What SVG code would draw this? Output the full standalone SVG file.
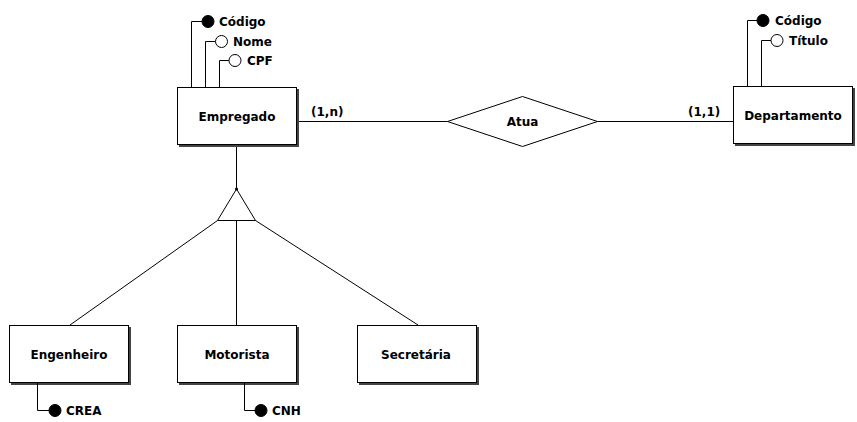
<svg xmlns="http://www.w3.org/2000/svg" width="857" height="422" viewBox="0 0 857 422">
<style>
text{font-family:"DejaVu Sans",sans-serif;font-weight:bold;font-size:12px;fill:#000}
.c{text-anchor:middle}
.box{fill:#fff;stroke:#000;stroke-width:1}
.sh{fill:#444}
.ln{fill:none;stroke:#000;stroke-width:1}
.pk{fill:#000;stroke:#000;stroke-width:1}
.at{fill:#fff;stroke:#000;stroke-width:1}
</style>
<rect width="857" height="422" fill="#fff"/>
<g id="connectors">
<path class="ln" d="M296.5,121.5H447.5"/>
<path class="ln" d="M597.5,121.5H733.5"/>
<path class="ln" d="M236.5,145V189"/>
<path class="ln" d="M217.5,220.5L70,325"/>
<path class="ln" d="M236.5,220.5V325"/>
<path class="ln" d="M255.5,220.5L418,325"/>
<text x="311" y="116">(1,n)</text>
<text x="688" y="116">(1,1)</text>
</g>
<g id="Empregado">
<rect class="sh" x="179" y="89" width="120" height="58"/>
<rect class="box" x="177.5" y="87.5" width="119" height="57"/>
<text class="c" x="237" y="121">Empregado</text>
<path class="ln" d="M191.5,87.5V21.5H202"/>
<circle class="pk" cx="208" cy="21.5" r="6"/>
<text x="219" y="26">Código</text>
<path class="ln" d="M205.5,87.5V41.5H215.5"/>
<circle class="at" cx="221.5" cy="41.5" r="6"/>
<text x="233" y="46">Nome</text>
<path class="ln" d="M219.5,87.5V60.5H229"/>
<circle class="at" cx="235" cy="60.5" r="6"/>
<text x="247" y="65">CPF</text>
</g>
<g id="Atua">
<polygon class="box" points="447.5,121.5 522.5,96.5 597.5,121.5 522.5,146.5"/>
<text class="c" x="522.5" y="126">Atua</text>
</g>
<g id="Departamento">
<rect class="sh" x="735" y="88" width="120" height="58"/>
<rect class="box" x="733.5" y="86.5" width="119" height="57"/>
<text class="c" x="793" y="120">Departamento</text>
<path class="ln" d="M747.5,86.5V20.5H757"/>
<circle class="pk" cx="763" cy="20.5" r="6"/>
<text x="775" y="25">Código</text>
<path class="ln" d="M761.5,86.5V40.5H771"/>
<circle class="at" cx="777" cy="40.5" r="6"/>
<text x="789" y="45">Título</text>
</g>
<g id="Especializacao">
<polygon class="box" points="236.5,189 217.5,220.5 255.5,220.5"/>
<circle cx="236.5" cy="189" r="1.5" fill="#000"/>
</g>
<g id="Engenheiro">
<rect class="sh" x="11" y="327" width="120" height="58"/>
<rect class="box" x="9.5" y="325.5" width="119" height="57"/>
<text class="c" x="69" y="359">Engenheiro</text>
<path class="ln" d="M37.5,382.5V410.5H49"/>
<circle class="pk" cx="55" cy="410.5" r="6"/>
<text x="66" y="415">CREA</text>
</g>
<g id="Motorista">
<rect class="sh" x="179" y="327" width="120" height="58"/>
<rect class="box" x="177.5" y="325.5" width="119" height="57"/>
<text class="c" x="237" y="359">Motorista</text>
<path class="ln" d="M244.5,382.5V410.5H255"/>
<circle class="pk" cx="261" cy="410.5" r="6"/>
<text x="272" y="415">CNH</text>
</g>
<g id="Secretaria">
<rect class="sh" x="359" y="327" width="120" height="58"/>
<rect class="box" x="357.5" y="325.5" width="119" height="57"/>
<text class="c" x="416" y="359">Secretária</text>
</g>
</svg>
